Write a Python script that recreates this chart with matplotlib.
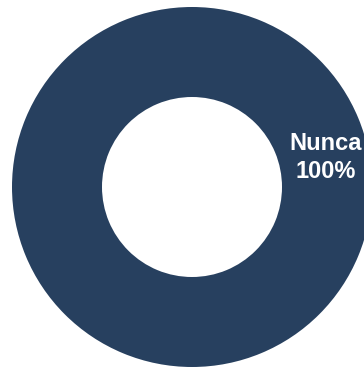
import matplotlib
matplotlib.use('Agg')
import matplotlib.pyplot as plt

# datos
categorias = ['Nunca']
valores = [100]
colores = ['#27405f']

plt.rcParams['font.family'] = ['Liberation Sans', 'DejaVu Sans']

fig = plt.figure(figsize=(3.64, 3.69), dpi=100)
# centro del anillo ~ (192, 187) px, radio ~180 px
ax = fig.add_axes([12 / 364, 2 / 369, 360 / 364, 360 / 369])

etiquetas = iter(categorias)
ax.pie(valores, colors=colores, startangle=-167.5, counterclock=True,
       wedgeprops=dict(width=0.5, edgecolor='none'),
       autopct=lambda p: '%s\n%d%%' % (next(etiquetas), round(p)),
       pctdistance=0.76,
       textprops=dict(color='white', fontsize=17, fontweight='bold',
                      linespacing=1.27))
ax.set_xlim(-1, 1)
ax.set_ylim(-1, 1)
ax.set_aspect('equal')
ax.axis('off')

fig.savefig('out.png', dpi=100)
